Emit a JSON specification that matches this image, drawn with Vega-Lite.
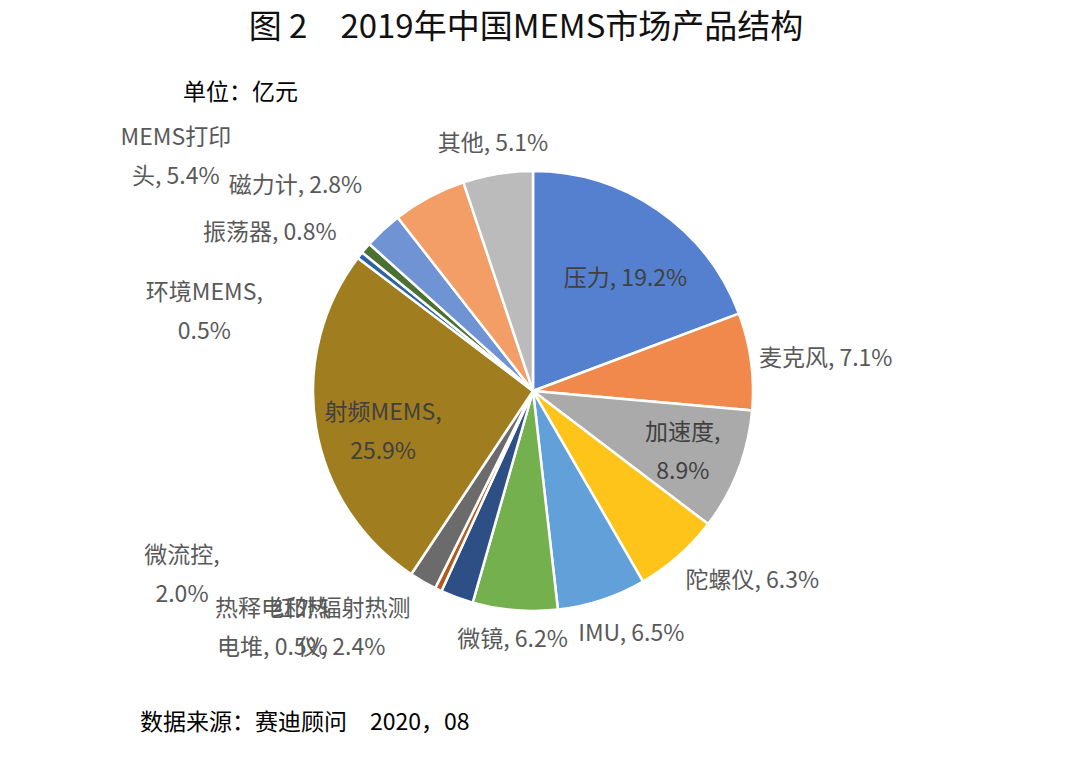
{
  "$schema": "https://vega.github.io/schema/vega-lite/v6.json",
  "background": "white",
  "padding": {"left": 0, "top": 12, "right": 0, "bottom": 0},
  "config": {
    "view": {"stroke": null},
    "font": "Noto Sans CJK SC",
    "concat": {"spacing": 0},
    "text": {"font": "Noto Sans CJK SC", "fontSize": 23, "color": "#404040", "baseline": "middle", "align": "center", "lineBreak": "\n", "lineHeight": 39}
  },
  "title": {"text": "数据来源：赛迪顾问　2020，08", "orient": "bottom", "anchor": "start", "dx": 140, "fontSize": 23, "fontWeight": "normal", "color": "#000000", "offset": 4, "font": "Noto Sans CJK SC"},
  "vconcat": [
    {
      "title": {"text": "图 2　2019年中国MEMS市场产品结构", "anchor": "middle", "dx": -7, "fontSize": 33, "fontWeight": "normal", "color": "#111111", "offset": 36, "font": "Noto Sans CJK SC"},
      "vconcat": [
        {
          "title": {"text": "单位：亿元", "anchor": "start", "dx": 183, "fontSize": 23, "fontWeight": "normal", "color": "#000000", "offset": -24, "font": "Noto Sans CJK SC"},
          "width": 1066,
          "height": 516,
          "data": {"values": [
            {"rank": 1, "name": "压力", "value": 19.2, "label": "压力, 19.2%"},
            {"rank": 2, "name": "麦克风", "value": 7.1, "label": "麦克风, 7.1%"},
            {"rank": 3, "name": "加速度", "value": 8.9, "label": "加速度,\n8.9%"},
            {"rank": 4, "name": "陀螺仪", "value": 6.3, "label": "陀螺仪, 6.3%"},
            {"rank": 5, "name": "IMU", "value": 6.5, "label": "IMU, 6.5%"},
            {"rank": 6, "name": "微镜", "value": 6.2, "label": "微镜, 6.2%"},
            {"rank": 7, "name": "红外辐射热测仪", "value": 2.4, "label": "红外辐射热测\n仪, 2.4%"},
            {"rank": 8, "name": "热释电和热电堆", "value": 0.5, "label": "热释电和热\n电堆, 0.5%"},
            {"rank": 9, "name": "微流控", "value": 2.0, "label": "微流控,\n2.0%"},
            {"rank": 10, "name": "射频MEMS", "value": 25.9, "label": "射频MEMS,\n25.9%"},
            {"rank": 11, "name": "环境MEMS", "value": 0.5, "label": "环境MEMS,\n0.5%"},
            {"rank": 12, "name": "振荡器", "value": 0.8, "label": "振荡器, 0.8%"},
            {"rank": 13, "name": "磁力计", "value": 2.8, "label": "磁力计, 2.8%"},
            {"rank": 14, "name": "MEMS打印头", "value": 5.4, "label": "MEMS打印\n头, 5.4%"},
            {"rank": 15, "name": "其他", "value": 5.1, "label": "其他, 5.1%"}
          ]},
          "encoding": {
            "theta": {"field": "value", "type": "quantitative", "stack": true},
            "order": {"field": "rank", "type": "quantitative"},
            "detail": {"field": "name", "type": "nominal"}
          },
          "layer": [
            {
              "mark": {"type": "arc", "outerRadius": 220, "stroke": "white", "strokeWidth": 2.5},
              "encoding": {
                "color": {"field": "name", "type": "nominal", "legend": null,
                  "scale": {
                    "domain": ["压力", "麦克风", "加速度", "陀螺仪", "IMU", "微镜", "红外辐射热测仪", "热释电和热电堆", "微流控", "射频MEMS", "环境MEMS", "振荡器", "磁力计", "MEMS打印头", "其他"],
                    "range": ["#5580CF", "#F0894B", "#AAAAAA", "#FFC419", "#62A0DA", "#75B04E", "#2D4F85", "#B05A1E", "#6B6B6B", "#A07D1E", "#2B64A0", "#4A7132", "#6F93D3", "#F29E66", "#BBBBBB"]
                  }
                }
              }
            },
            {
              "mark": {"type": "text", "dx": 6, "dy": 13},
              "encoding": {"radius": {"value": 152}, "text": {"condition": {"test": "datum.name === '压力'", "field": "label"}, "value": ""}}
            },
            {
              "mark": {"type": "text", "dx": 8, "dy": -13},
              "encoding": {"radius": {"value": 152}, "text": {"condition": {"test": "datum.name === '加速度'", "field": "label"}, "value": ""}}
            },
            {
              "mark": {"type": "text", "dy": -3},
              "encoding": {"radius": {"value": 152}, "text": {"condition": {"test": "datum.name === '射频MEMS'", "field": "label"}, "value": ""}}
            },
            {
              "mark": {"type": "text", "color": "#595959"},
              "encoding": {
                "radius": {"value": 250},
                "text": {"condition": {"test": "indexof(['其他','微镜'], datum.name) >= 0", "field": "label"}, "value": ""}
              }
            },
            {
              "mark": {"type": "text", "color": "#595959", "dx": -239, "dy": -33},
              "encoding": {"radius": {"value": 250}, "text": {"condition": {"test": "datum.name === 'MEMS打印头'", "field": "label"}, "value": ""}}
            },
            {
              "mark": {"type": "text", "color": "#595959", "dx": -67, "dy": -22},
              "encoding": {"radius": {"value": 250}, "text": {"condition": {"test": "datum.name === '磁力计'", "field": "label"}, "value": ""}}
            },
            {
              "mark": {"type": "text", "color": "#595959", "dx": -73, "dy": 4},
              "encoding": {"radius": {"value": 250}, "text": {"condition": {"test": "datum.name === '振荡器'", "field": "label"}, "value": ""}}
            },
            {
              "mark": {"type": "text", "color": "#595959", "dx": -132, "dy": 56},
              "encoding": {"radius": {"value": 250}, "text": {"condition": {"test": "datum.name === '环境MEMS'", "field": "label"}, "value": ""}}
            },
            {
              "mark": {"type": "text", "color": "#595959", "dx": -226, "dy": -52},
              "encoding": {"radius": {"value": 250}, "text": {"condition": {"test": "datum.name === '微流控'", "field": "label"}, "value": ""}}
            },
            {
              "mark": {"type": "text", "color": "#595959", "dx": -153, "dy": -8},
              "encoding": {"radius": {"value": 250}, "text": {"condition": {"test": "datum.name === '热释电和热电堆'", "field": "label"}, "value": ""}}
            },
            {
              "mark": {"type": "text", "color": "#595959", "dx": -105, "dy": -17},
              "encoding": {"radius": {"value": 250}, "text": {"condition": {"test": "datum.name === '红外辐射热测仪'", "field": "label"}, "value": ""}}
            },
            {
              "mark": {"type": "text", "color": "#595959", "dx": 20, "dy": 6},
              "encoding": {"radius": {"value": 250}, "text": {"condition": {"test": "datum.name === 'IMU'", "field": "label"}, "value": ""}}
            },
            {
              "mark": {"type": "text", "color": "#595959", "dx": 54, "dy": 2},
              "encoding": {"radius": {"value": 250}, "text": {"condition": {"test": "datum.name === '陀螺仪'", "field": "label"}, "value": ""}}
            },
            {
              "mark": {"type": "text", "color": "#595959", "dx": 45, "dy": 2},
              "encoding": {"radius": {"value": 250}, "text": {"condition": {"test": "datum.name === '麦克风'", "field": "label"}, "value": ""}}
            }
          ]
        }
      ]
    }
  ]
}
